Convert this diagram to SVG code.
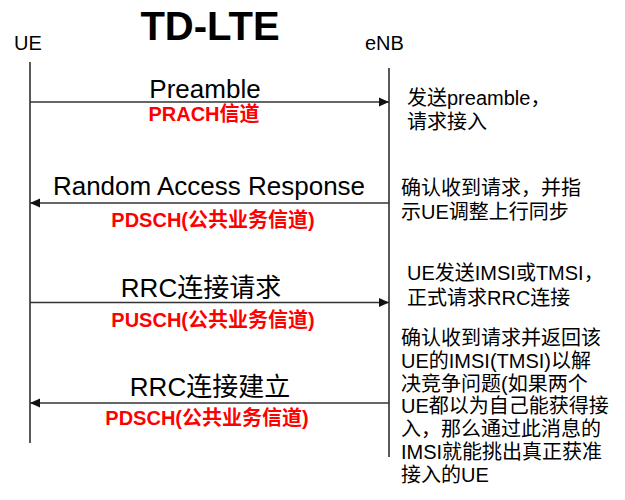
<svg xmlns="http://www.w3.org/2000/svg" width="625" height="500" viewBox="0 0 625 500">
<defs>
<style>
text{font-family:"Liberation Sans","Noto Sans CJK SC",sans-serif;fill:#000}
.title{font-size:40px;font-weight:bold;text-anchor:middle}
.actor{font-size:20px}
.msg{font-size:26px;text-anchor:middle}
.ch{font-size:20px;font-weight:bold;fill:#ff0000;text-anchor:middle}
.note{font-size:20px}
.life{stroke:#222;stroke-width:1.5;fill:none}
.arrow{stroke:#333;stroke-width:1.4;fill:none;marker-end:url(#ah)}
</style>
<marker id="ah" markerUnits="userSpaceOnUse" markerWidth="12" markerHeight="10" refX="10" refY="5" orient="auto">
<path d="M0,0.5 L10,5 L0,9.5 Z" fill="#111"/>
</marker>
</defs>
<rect width="625" height="500" fill="#fff"/>
<text class="title" x="210" y="39.5">TD-LTE</text>
<g id="ue">
<text class="actor" x="14" y="50">UE</text>
<line class="life" x1="30" y1="62" x2="30" y2="443"/>
</g>
<g id="enb">
<text class="actor" x="365" y="50">eNB</text>
<line class="life" x1="389" y1="68" x2="389" y2="457"/>
</g>
<g id="connectors">
<line class="arrow" x1="30" y1="102" x2="389" y2="102"/>
<line class="arrow" x1="389" y1="203" x2="30" y2="203"/>
<line class="arrow" x1="30" y1="302.5" x2="389" y2="302.5"/>
<line class="arrow" x1="389" y1="403" x2="30" y2="403"/>
</g>
<g id="msg1">
<text class="msg" x="205" y="98">Preamble</text>
<text class="ch" x="204" y="121">PRACH信道</text>
</g>
<g id="msg2">
<text class="msg" x="209" y="195">Random Access Response</text>
<text class="ch" x="213" y="227">PDSCH(公共业务信道)</text>
</g>
<g id="msg3">
<text class="msg" x="201" y="297">RRC连接请求</text>
<text class="ch" x="213" y="327">PUSCH(公共业务信道)</text>
</g>
<g id="msg4">
<text class="msg" x="210" y="396">RRC连接建立</text>
<text class="ch" x="207" y="425">PDSCH(公共业务信道)</text>
</g>
<g id="note1">
<text class="note" x="407" y="105">发送preamble，</text>
<text class="note" x="407" y="129">请求接入</text>
</g>
<g id="note2">
<text class="note" x="401" y="195">确认收到请求，并指</text>
<text class="note" x="401" y="219">示UE调整上行同步</text>
</g>
<g id="note3">
<text class="note" x="407" y="280">UE发送IMSI或TMSI，</text>
<text class="note" x="407" y="305">正式请求RRC连接</text>
</g>
<g id="note4">
<text class="note" x="401" y="345">确认收到请求并返回该</text>
<text class="note" x="401" y="368">UE的IMSI(TMSI)以解</text>
<text class="note" x="401" y="391">决竞争问题(如果两个</text>
<text class="note" x="401" y="413">UE都以为自己能获得接</text>
<text class="note" x="401" y="436">入，那么通过此消息的</text>
<text class="note" x="401" y="459">IMSI就能挑出真正获准</text>
<text class="note" x="401" y="482">接入的UE</text>
</g>
</svg>
